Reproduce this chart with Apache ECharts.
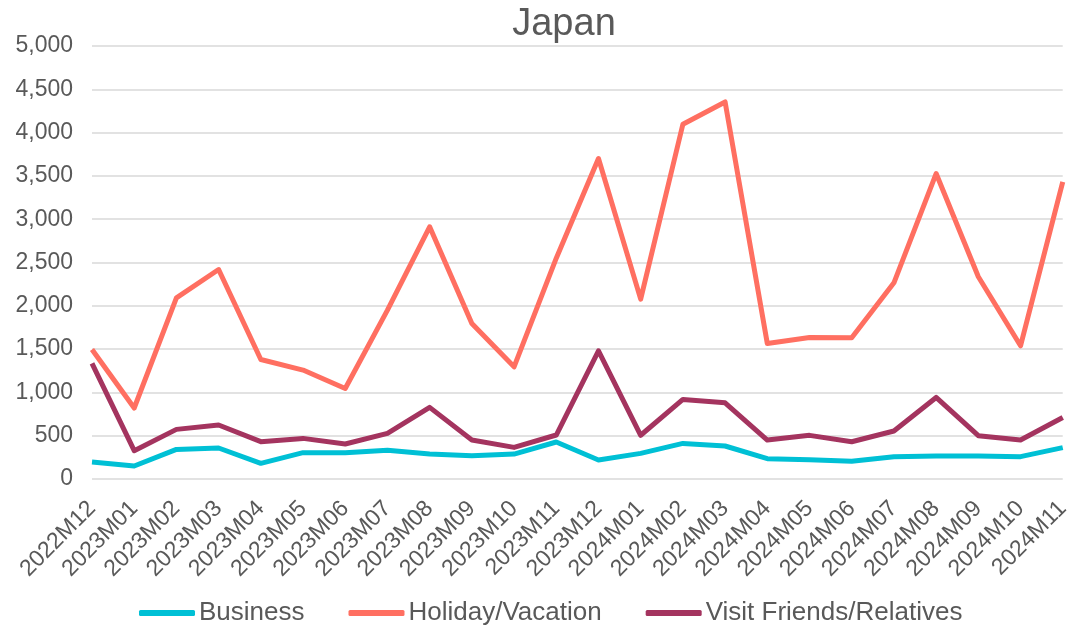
<!DOCTYPE html>
<html>
<head>
<meta charset="utf-8">
<script src="https://cdn.jsdelivr.net/npm/echarts@6/dist/echarts.min.js"></script>
<style>
  html, body { margin: 0; padding: 0; background: #fff; }
  #chart { width: 1073px; height: 628px; }
</style>
</head>
<body>
<div id="chart"></div>
<script>
const months = [
  '2022M12', '2023M01', '2023M02', '2023M03', '2023M04', '2023M05', '2023M06', '2023M07',
  '2023M08', '2023M09', '2023M10', '2023M11', '2023M12', '2024M01', '2024M02', '2024M03',
  '2024M04', '2024M05', '2024M06', '2024M07', '2024M08', '2024M09', '2024M10', '2024M11'
]

const business = [196, 150, 342, 358, 181, 304, 304, 331, 288, 269, 288, 427,
  219, 296, 411, 381, 235, 223, 204, 258, 265, 265, 258, 362]

const holiday = [1496, 820, 2092, 2419, 1380, 1258, 1045, 1950, 2912, 1796, 1295, 2550,
  3700, 2077, 4096, 4354, 1565, 1635, 1630, 2265, 3527, 2335, 1538, 3430]

const visitFriends = [1335, 327, 573, 623, 431, 469, 404, 527, 827, 450, 365, 508,
  1480, 505, 919, 880, 450, 504, 430, 554, 942, 500, 450, 711]

const seriesColors = ['#00C0D5', '#FF6F61', '#A4345F']
const font = 'Liberation Sans'
const textColor = '#595959'

const chart = echarts.init(document.getElementById('chart'))

// one line series per travel purpose
const makeLine = (name, data, color) => ({
  name,
  type: 'line',
  data,
  symbol: 'none',
  lineStyle: { width: 5, color, join: 'round' },
  itemStyle: { color },
  animation: false
})

chart.setOption({
  textStyle: { fontFamily: font },
  title: {
    text: 'Japan',
    left: 559,
    textAlign: 'center',
    top: 1,
    textStyle: { fontSize: 38, fontWeight: 'normal', color: textColor, fontFamily: font }
  },
  legend: {
    top: 595,
    left: 134,
    icon: 'roundRect',
    itemWidth: 56,
    itemHeight: 6,
    itemGap: 44,
    textStyle: { fontSize: 26, color: textColor, fontFamily: font, padding: [0, 0, 0, -1] },
    data: ['Business', 'Holiday/Vacation', 'Visit Friends/Relatives']
  },
  grid: {
    left: 92,
    right: 7,
    top: 46,
    bottom: 149,
    containLabel: false
  },
  xAxis: {
    type: 'category',
    boundaryGap: false,
    data: months,
    axisLine: { show: false },
    axisTick: { show: false },
    axisLabel: {
      rotate: 45,
      interval: 0,
      fontSize: 23,
      color: textColor,
      margin: 26
    }
  },
  yAxis: {
    type: 'value',
    min: 0,
    max: 5000,
    interval: 500,
    axisLine: { show: false },
    axisTick: { show: false },
    axisLabel: {
      fontSize: 23,
      color: textColor,
      margin: 19,
      formatter: v => v.toLocaleString('en-US')
    },
    splitLine: { lineStyle: { color: '#D9D9D9', width: 1.5 } }
  },
  series: [
    makeLine('Business', business, seriesColors[0]),
    makeLine('Holiday/Vacation', holiday, seriesColors[1]),
    makeLine('Visit Friends/Relatives', visitFriends, seriesColors[2])
  ]
})
</script>
</body>
</html>
